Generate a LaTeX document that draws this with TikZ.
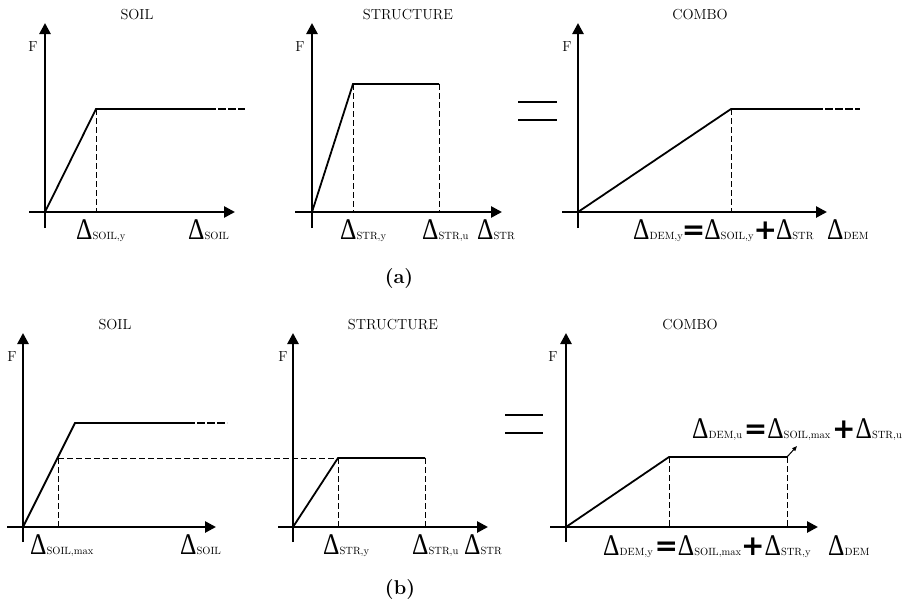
\documentclass[tikz,border=0pt]{standalone}
\usepackage{fontspec}
\usepackage{graphicx}
\usetikzlibrary{arrows.meta}
\newfontfamily\grk{Liberation Serif}
\newfontfamily\opf{DejaVu Sans}

% delta with small caps subscript
\newcommand{\dlt}[1]{\scalebox{0.85}[1]{\fontsize{30}{30}\selectfont\grk Δ}{\fontsize{10.5}{10.5}\selectfont #1}}
\newcommand{\bigeq}{{\fontsize{28}{28}\selectfont\opf\bfseries =}}
\newcommand{\bigplus}{{\fontsize{28}{28}\selectfont\opf\bfseries +}}

\begin{document}
\begin{tikzpicture}[x=1pt,y=-1pt,>=Stealth,
  axis/.style={line width=2.6pt,-{Triangle[length=11pt,width=11pt]}},
  curve/.style={line width=1.8pt},
  tail/.style={line width=1.8pt,dash pattern=on 8pt off 2pt},
  guide/.style={line width=0.7pt,dash pattern=on 6pt off 3pt},
  lbl/.style={inner sep=0pt,anchor=base west},
  ttl/.style={inner sep=0pt,font=\fontsize{14.5}{14.5}\selectfont},
  eqbar/.style={line width=2.6pt}]
  \useasboundingbox (0,0) rectangle (921,605);

  % ---------- (a) soil ----------
  \coordinate (sa-o) at (45,212);
  \coordinate (sa-xl) at (29,212);  \coordinate (sa-xr) at (235,212);
  \coordinate (sa-yb) at (45,228);  \coordinate (sa-yt) at (45,23);
  \coordinate (sa-y) at (96,109);   \coordinate (sa-p) at (208,109);
  \coordinate (sa-e) at (245,109);  \coordinate (sa-yx) at (96,212);
  \draw[axis] (sa-yb) -- (sa-yt);
  \draw[axis] (sa-xl) -- (sa-xr);
  \draw[curve] (sa-o) -- (sa-y) -- (sa-p);
  \draw[tail] (sa-p) -- (sa-e);
  \draw[guide] (sa-y) -- (sa-yx);
  \node[ttl] (sa-title) at (137,15) {SOIL};
  \node[ttl] (sa-f) at (33,47) {F};
  \node[lbl] (sa-dy) at (76,239) {\dlt{SOIL,y}};
  \node[lbl] (sa-d) at (188,239) {\dlt{SOIL}};

  % ---------- (a) structure ----------
  \coordinate (ta-o) at (312,212);
  \coordinate (ta-xl) at (295,212); \coordinate (ta-xr) at (502,212);
  \coordinate (ta-yb) at (312,228); \coordinate (ta-yt) at (312,23);
  \coordinate (ta-y) at (353,84);   \coordinate (ta-u) at (439,84);
  \coordinate (ta-yx) at (353,212); \coordinate (ta-ux) at (439,212);
  \draw[axis] (ta-yb) -- (ta-yt);
  \draw[axis] (ta-xl) -- (ta-xr);
  \draw[curve] (ta-o) -- (ta-y) -- (ta-u);
  \draw[guide] (ta-y) -- (ta-yx);
  \draw[guide] (ta-u) -- (ta-ux);
  \node[ttl] (ta-title) at (408,15) {STRUCTURE};
  \node[ttl] (ta-f) at (300,47) {F};
  \node[lbl] (ta-dy) at (340,239) {\dlt{STR,y}};
  \node[lbl] (ta-du) at (422,239) {\dlt{STR,u}};
  \node[lbl] (ta-d) at (477,239) {\dlt{STR}};

  % equals
  \coordinate (ea-1l) at (518,102); \coordinate (ea-1r) at (557,102);
  \coordinate (ea-2l) at (518,120); \coordinate (ea-2r) at (557,120);
  \draw[eqbar] (ea-1l) -- (ea-1r);
  \draw[eqbar] (ea-2l) -- (ea-2r);

  % ---------- (a) combo ----------
  \coordinate (ca-o) at (578,212);
  \coordinate (ca-xl) at (562,212); \coordinate (ca-xr) at (827,212);
  \coordinate (ca-yb) at (578,228); \coordinate (ca-yt) at (578,23);
  \coordinate (ca-y) at (731,109);  \coordinate (ca-p) at (815,109);
  \coordinate (ca-e) at (860,109);  \coordinate (ca-yx) at (731,212);
  \draw[axis] (ca-yb) -- (ca-yt);
  \draw[axis] (ca-xl) -- (ca-xr);
  \draw[curve] (ca-o) -- (ca-y) -- (ca-p);
  \draw[tail] (ca-p) -- (ca-e);
  \draw[guide] (ca-y) -- (ca-yx);
  \node[ttl] (ca-title) at (700,15) {COMBO};
  \node[ttl] (ca-f) at (567,47) {F};
  \node[lbl] (ca-dy) at (633,239) {\dlt{DEM,y}\kern-1pt\bigeq\kern-1pt\dlt{SOIL,y}\bigplus\kern-1pt\dlt{STR}};
  \node[lbl] (ca-d) at (827,239) {\dlt{DEM}};

  \node[inner sep=0pt,font=\fontsize{20}{20}\selectfont\bfseries] (cap-a) at (399,279) {(a)};

  % ---------- (b) soil ----------
  \coordinate (sb-o) at (23,527);
  \coordinate (sb-xl) at (7,527);   \coordinate (sb-xr) at (216,527);
  \coordinate (sb-yb) at (23,542);  \coordinate (sb-yt) at (23,333);
  \coordinate (sb-y) at (75,423);   \coordinate (sb-p) at (187,423);
  \coordinate (sb-e) at (227,423);
  \coordinate (sb-m) at (58,458);   \coordinate (sb-mx) at (58,527);
  \draw[axis] (sb-yb) -- (sb-yt);
  \draw[axis] (sb-xl) -- (sb-xr);
  \draw[curve] (sb-o) -- (sb-y) -- (sb-p);
  \draw[tail] (sb-p) -- (sb-e);
  \draw[guide] (sb-m) -- (sb-mx);
  \node[ttl] (sb-title) at (115,325) {SOIL};
  \node[ttl] (sb-f) at (12,357) {F};
  \node[lbl] (sb-dm) at (30,554) {\dlt{SOIL,max}};
  \node[lbl] (sb-d) at (180,554) {\dlt{SOIL}};

  % ---------- (b) structure ----------
  \coordinate (tb-o) at (293,527);
  \coordinate (tb-xl) at (278,527); \coordinate (tb-xr) at (488,527);
  \coordinate (tb-yb) at (293,542); \coordinate (tb-yt) at (293,333);
  \coordinate (tb-y) at (338,458);  \coordinate (tb-u) at (425,458);
  \coordinate (tb-yx) at (338,527); \coordinate (tb-ux) at (425,527);
  \draw[guide] (sb-m) -- (tb-y);
  \draw[axis] (tb-yb) -- (tb-yt);
  \draw[axis] (tb-xl) -- (tb-xr);
  \draw[curve] (tb-o) -- (tb-y) -- (tb-u);
  \draw[guide] (tb-y) -- (tb-yx);
  \draw[guide] (tb-u) -- (tb-ux);
  \node[ttl] (tb-title) at (393,325) {STRUCTURE};
  \node[ttl] (tb-f) at (283,357) {F};
  \node[lbl] (tb-dy) at (323,554) {\dlt{STR,y}};
  \node[lbl] (tb-du) at (412,554) {\dlt{STR,u}};
  \node[lbl] (tb-d) at (464,554) {\dlt{STR}};

  % equals
  \coordinate (eb-1l) at (505,415); \coordinate (eb-1r) at (543,415);
  \coordinate (eb-2l) at (505,433); \coordinate (eb-2r) at (543,433);
  \draw[eqbar] (eb-1l) -- (eb-1r);
  \draw[eqbar] (eb-2l) -- (eb-2r);

  % ---------- (b) combo ----------
  \coordinate (cb-o) at (566,527);
  \coordinate (cb-xl) at (550,527); \coordinate (cb-xr) at (818,527);
  \coordinate (cb-yb) at (566,542); \coordinate (cb-yt) at (566,333);
  \coordinate (cb-y) at (669,457);  \coordinate (cb-u) at (787,457);
  \coordinate (cb-yx) at (669,527); \coordinate (cb-ux) at (787,527);
  \coordinate (cb-tip) at (797,446);
  \draw[axis] (cb-yb) -- (cb-yt);
  \draw[axis] (cb-xl) -- (cb-xr);
  \draw[curve] (cb-o) -- (cb-y) -- (cb-u);
  \draw[guide] (cb-y) -- (cb-yx);
  \draw[guide] (cb-u) -- (cb-ux);
  \draw[line width=1pt,-{Triangle[length=5pt,width=4pt]}] (cb-u) -- (cb-tip);
  \node[ttl] (cb-title) at (690,325) {COMBO};
  \node[ttl] (cb-f) at (553,357) {F};
  \node[lbl] (cb-du) at (692,438) {\dlt{DEM,u}\,\bigeq\dlt{SOIL,max}\,\bigplus\dlt{STR,u}};
  \node[lbl] (cb-dy) at (603,555) {\dlt{DEM,y}\,\bigeq\dlt{SOIL,max}\bigplus\dlt{STR,y}};
  \node[lbl] (cb-d) at (828,555) {\dlt{DEM}};

  \node[inner sep=0pt,font=\fontsize{20}{20}\selectfont\bfseries] (cap-b) at (400,590) {(b)};
\end{tikzpicture}
\end{document}
